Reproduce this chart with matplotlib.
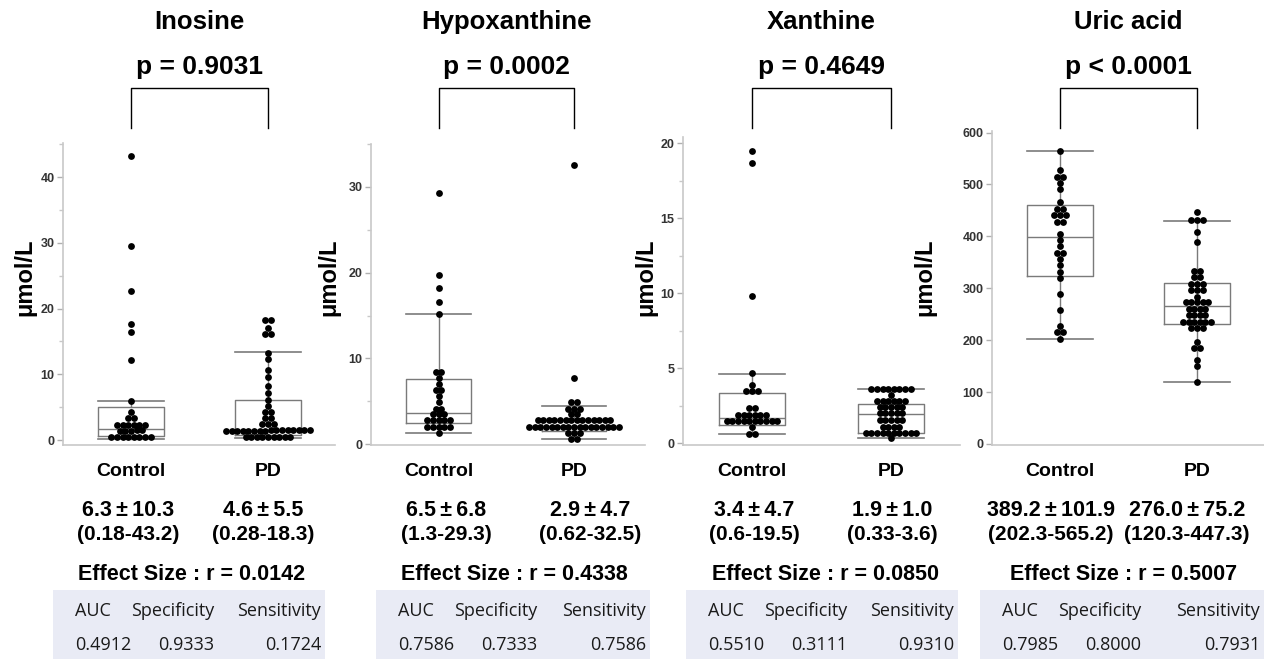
import numpy as np
import matplotlib
matplotlib.use("Agg")
import matplotlib.pyplot as plt
import matplotlib.font_manager as fm
from matplotlib.patches import Rectangle
from matplotlib.lines import Line2D
from matplotlib.transforms import blended_transform_factory

# ---- data ----
compounds = ["Inosine", "Hypoxanthine", "Xanthine", "Uric acid"]
p_values = ["p = 0.9031", "p = 0.0002", "p = 0.4649", "p < 0.0001"]
groups = ["Control", "PD"]

inosine_ctrl = [0.4, 0.4, 0.4, 0.45, 0.45, 0.45, 0.5, 0.5,
                1.4, 1.4, 1.4, 1.45, 1.45,
                2.3, 2.3, 2.3, 2.35, 2.35, 2.35,
                3.3, 3.3, 4.2, 5.9, 12.2, 16.5, 17.6, 22.7, 29.5, 43.2]
inosine_pd = [0.4, 0.4, 0.4, 0.45, 0.45, 0.45, 0.5, 0.5, 0.5,
              1.4, 1.4, 1.4, 1.4, 1.4, 1.4, 1.4, 1.4,
              1.45, 1.45, 1.45, 1.45, 1.45, 1.45, 1.45, 1.45,
              2.4, 2.4, 2.4, 3.3, 3.3, 4.2, 4.2, 5.2, 6.1, 7.2, 8.2,
              9.6, 10.6, 12.4, 13.3, 16.1, 16.2, 17.1, 18.2, 18.3]
hypox_ctrl = [1.3, 2.05, 2.05, 2.05, 2.05, 2.05, 2.8, 2.8, 2.8, 2.8, 2.8,
              3.5, 3.5, 3.5, 4.15, 4.15, 4.9, 5.6, 6.3, 6.3, 7.0, 7.7,
              8.4, 8.4, 15.2, 16.6, 18.2, 19.7, 29.3]
hypox_pd = [0.62, 0.62, 1.3, 1.3, 1.3,
            2.05, 2.05, 2.05, 2.05, 2.05, 2.05, 2.05, 2.05, 2.05,
            2.05, 2.05, 2.05, 2.05, 2.05, 2.05, 2.05, 2.05,
            2.8, 2.8, 2.8, 2.8, 2.8, 2.8, 2.8, 2.8, 2.8, 2.8, 2.8, 2.8, 2.8, 2.8,
            3.5, 3.5, 4.15, 4.15, 4.15, 4.9, 4.9, 7.7, 32.5]
xanth_ctrl = [0.62, 0.62, 1.06,
              1.48, 1.48, 1.48, 1.48, 1.48, 1.48, 1.48, 1.48, 1.48, 1.48,
              1.88, 1.88, 1.88, 1.88, 1.88, 1.88, 2.33, 2.33,
              3.48, 3.48, 3.48, 3.88, 4.7, 9.8, 18.7, 19.5]
xanth_pd = [0.33, 0.7, 0.7, 0.7, 0.7, 0.7, 0.7, 0.7, 0.7, 0.7, 0.7,
            1.1, 1.1, 1.1, 1.1, 1.55, 1.55, 1.55, 1.55, 1.55,
            1.99, 1.99, 1.99, 1.99, 1.99, 2.39, 2.39, 2.39, 2.39, 2.39,
            2.83, 2.83, 2.83, 2.83, 2.83, 2.83, 3.21,
            3.6, 3.6, 3.6, 3.6, 3.6, 3.6, 3.6, 3.6]
uric_ctrl = [202.3, 215, 215, 228, 259, 288, 320, 332, 345, 357, 368, 368,
             381, 393, 405, 427, 427, 441, 441, 441, 453, 453, 467, 491,
             503, 515, 515, 527, 565.2]
uric_pd = [120.3, 150, 162, 184, 184, 197, 224, 224, 224,
           235.5, 235.5, 235.5, 235.5, 235.5, 235.5, 248, 248, 248, 248,
           260.5, 260.5, 260.5, 260.5, 273, 273, 273, 273, 273, 284,
           297, 297, 297, 308, 308, 308, 322, 322, 334, 334, 390, 409,
           431, 431, 431, 447.3]

# box statistics (whislo, q1, median, q3, whishi)
inosine_box = [[0.18, 0.6, 1.7, 5.05, 5.9], [0.28, 0.7, 1.45, 6.1, 13.4]]
hypox_box = [[1.3, 2.45, 3.6, 7.55, 15.2], [0.62, 1.5, 2.1, 2.8, 4.5]]
xanth_box = [[0.6, 1.22, 1.66, 3.32, 4.65], [0.33, 0.7, 1.93, 2.6, 3.6]]
uric_box = [[202.3, 324, 398, 459.5, 565.2], [120.3, 231, 265, 310, 430]]

mean_sd = [["6.3\u2009±\u200910.3", "4.6\u2009±\u20095.5"],
           ["6.5\u2009±\u20096.8", "2.9\u2009±\u20094.7"],
           ["3.4\u2009±\u20094.7", "1.9\u2009±\u20091.0"],
           ["389.2\u2009±\u2009101.9", "276.0\u2009±\u200975.2"]]
ranges = [["(0.18-43.2)", "(0.28-18.3)"], ["(1.3-29.3)", "(0.62-32.5)"],
          ["(0.6-19.5)", "(0.33-3.6)"], ["(202.3-565.2)", "(120.3-447.3)"]]
effect_sizes = ["0.0142", "0.4338", "0.0850", "0.5007"]
table_header = ["AUC", "Specificity", "Sensitivity"]
auc = ["0.4912", "0.7586", "0.5510", "0.7985"]
specificity = ["0.9333", "0.7333", "0.3111", "0.8000"]
sensitivity = ["0.1724", "0.7586", "0.9310", "0.7931"]

# ---- layout (pixels) ----
W, H = 1264, 659
available = {f.name for f in fm.fontManager.ttflist}
NARROW = "Liberation Sans Narrow" if "Liberation Sans Narrow" in available else "Liberation Sans"

panels = [
    dict(ctrl=inosine_ctrl, pd=inosine_pd, box=inosine_box, box_lrtb=(63, 335, 143, 445),
         cx=(131, 268), ylim=(-0.76, 45.2), major=10, minor=5, ylab_x=25,
         stat_x=(128, 263), eff_x=192, tab=(53, 325)),
    dict(ctrl=hypox_ctrl, pd=hypox_pd, box=hypox_box, box_lrtb=(371, 645, 144, 445),
         cx=(438.7, 574), ylim=(-0.1, 35.0), major=10, minor=5, ylab_x=329,
         stat_x=(446, 590), eff_x=514, tab=(376, 650)),
    dict(ctrl=xanth_ctrl, pd=xanth_pd, box=xanth_box, box_lrtb=(683, 960, 137, 445),
         cx=(752, 891), ylim=(-0.11, 20.4), major=5, minor=2.5, ylab_x=646,
         stat_x=(754, 892), eff_x=826, tab=(686, 958)),
    dict(ctrl=uric_ctrl, pd=uric_pd, box=uric_box, box_lrtb=(992, 1264, 131, 444.5),
         cx=(1060, 1197), ylim=(-1, 603), major=100, minor=None, ylab_x=925,
         stat_x=(1051, 1187), eff_x=1124, tab=(980, 1264)),
]


def fx(x):
    return x / W


def fy(y):
    return 1 - y / H


def row_layout(values, thr, dx):
    vals = np.sort(np.asarray(values, dtype=float))
    xs = np.zeros_like(vals)
    rows, start = [], None
    for i, v in enumerate(vals):
        if start is None or v - start > thr:
            rows.append([i])
            start = v
        else:
            rows[-1].append(i)
    for r in rows:
        k = len(r)
        for j, idx in enumerate(r):
            xs[idx] = (j - (k - 1) / 2) * dx
    return xs, vals


fig = plt.figure(figsize=(W / 100, H / 100), dpi=100)
fig.patch.set_facecolor("white")

for k, p in enumerate(panels):
    l, r, t, b = p["box_lrtb"]
    ax = fig.add_axes([fx(l), fy(b), (r - l) / W, (b - t) / H])
    c0, c1 = p["cx"]
    scale = c1 - c0
    ax.set_xlim((l - c0) / scale, (r - c0) / scale)
    ax.set_ylim(*p["ylim"])
    py = (b - t) / (p["ylim"][1] - p["ylim"][0])

    stats = []
    for bs in p["box"]:
        stats.append(dict(whislo=bs[0], q1=bs[1], med=bs[2], q3=bs[3], whishi=bs[4], fliers=[]))
    gray = "#7a7a7a"
    ax.bxp(stats, positions=[0, 1], widths=0.48, capwidths=0.48, showfliers=False,
           boxprops=dict(color=gray, linewidth=1.0),
           whiskerprops=dict(color=gray, linewidth=1.0),
           capprops=dict(color=gray, linewidth=1.2),
           medianprops=dict(color=gray, linewidth=1.0))

    for pos, vals in enumerate([p["ctrl"], p["pd"]]):
        xs, ys = row_layout(vals, 4.0 / py, 5.6 / scale)
        ax.scatter(xs + pos, ys, s=24, color="black", linewidths=0, zorder=5)

    ax.yaxis.set_major_locator(plt.MultipleLocator(p["major"]))
    if p["minor"]:
        ax.yaxis.set_minor_locator(plt.MultipleLocator(p["minor"]))
    ax.set_xticks([])
    for side in ["top", "right"]:
        ax.spines[side].set_visible(False)
    for side in ["left", "bottom"]:
        ax.spines[side].set_color("#c8c8c8")
        ax.spines[side].set_linewidth(1.2)
    ax.tick_params(axis="y", which="major", length=4, width=1, color="#b0b0b0",
                   labelsize=9, labelcolor="#333333", pad=2)
    ax.tick_params(axis="y", which="minor", length=3, width=1, color="#c8c8c8")
    for lab in ax.get_yticklabels():
        lab.set_fontweight("bold")
        lab.set_fontfamily("Liberation Sans")
    ax.patch.set_alpha(0)

    # y label
    fig.text(fx(p["ylab_x"]), fy(277), "μmol/L", rotation=90, ha="center", va="center",
             fontsize=17, fontweight="bold", family="Liberation Sans")

    # title, p value and bracket
    mid = (c0 + c1) / 2
    fig.text(fx(mid), fy(22), compounds[k], ha="center", va="center",
             fontsize=18.5, fontweight="bold", family=NARROW)
    fig.text(fx(mid), fy(67), p_values[k], ha="center", va="center",
             fontsize=19, fontweight="bold", family=NARROW)
    tr = blended_transform_factory(ax.transData, fig.transFigure)
    ax.add_line(Line2D([0, 0, 1, 1], [fy(128), fy(88), fy(88), fy(128)],
                       transform=tr, color="black", linewidth=1.0, clip_on=False))

    # group labels and summary text
    for g in range(2):
        gx = p["cx"][g]
        fig.text(fx(gx), fy(472), groups[g], ha="center", va="center",
                 fontsize=14, fontweight="bold", family=NARROW)
        sx = p["stat_x"][g]
        fig.text(fx(sx), fy(510), mean_sd[k][g], ha="center", va="center",
                 fontsize=15.5, fontweight="bold", family=NARROW)
        fig.text(fx(sx), fy(534), ranges[k][g], ha="center", va="center",
                 fontsize=15, fontweight="bold", family=NARROW)
    fig.text(fx(p["eff_x"]), fy(574), "Effect Size : r = " + effect_sizes[k],
             ha="center", va="center", fontsize=15.5, fontweight="bold", family=NARROW)

    # table
    tl, trr = p["tab"]
    fig.patches.append(Rectangle((fx(tl), fy(659)), (trr - tl) / W, (659 - 590) / H,
                                 transform=fig.transFigure, facecolor="#e9ebf5",
                                 edgecolor="none", zorder=0))
    row_vals = [auc[k], specificity[k], sensitivity[k]]
    col_x = [tl + 22, tl + 161, trr - 4]
    col_ha = ["left", "right", "right"]
    for c in range(3):
        fig.text(fx(col_x[c]), fy(611), table_header[c], ha=col_ha[c], va="center",
                 fontsize=13, family="Open Sans", color="#1a1a1a")
        fig.text(fx(col_x[c]), fy(645), row_vals[c], ha=col_ha[c], va="center",
                 fontsize=13, family="Open Sans", color="#1a1a1a")

fig.savefig("out.png", dpi=100)
